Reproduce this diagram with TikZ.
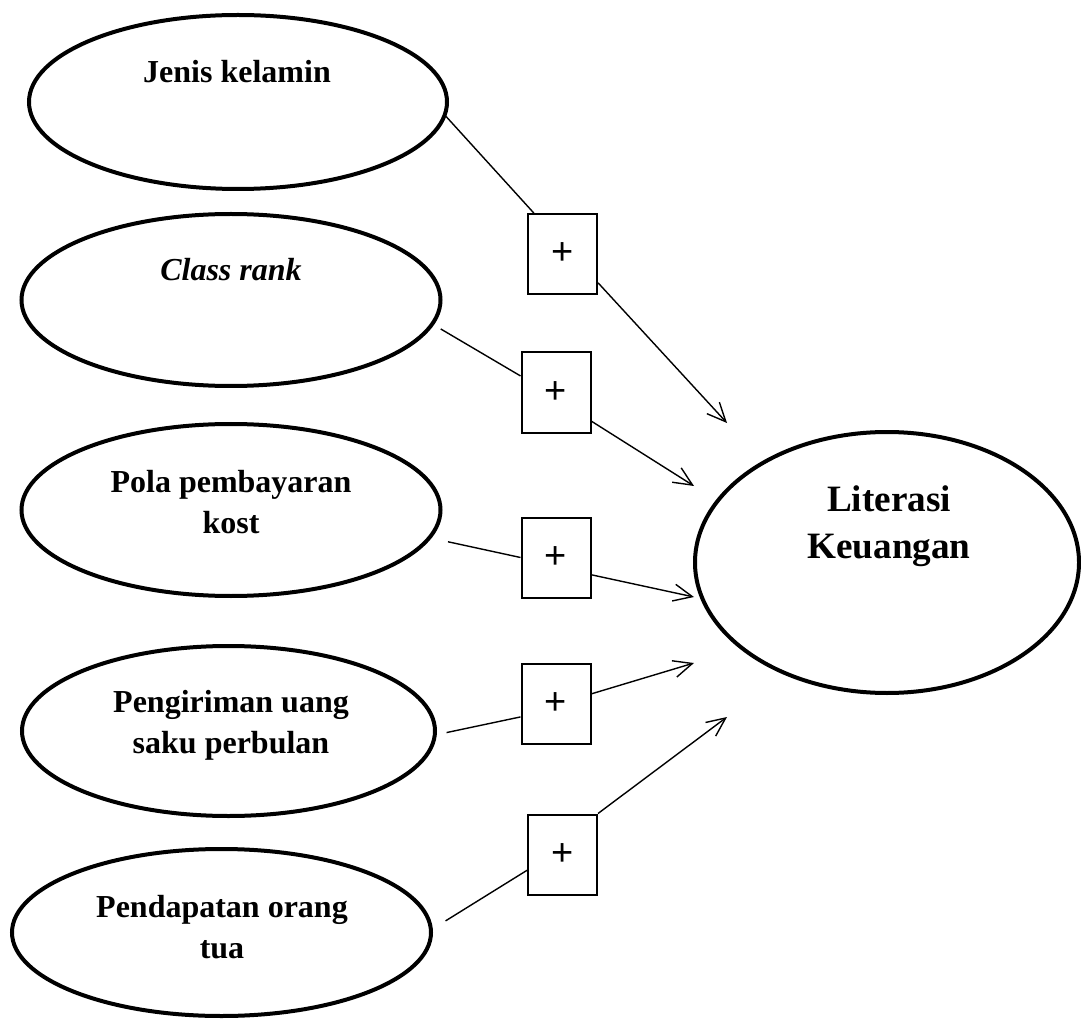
\documentclass[tikz,border=0pt]{standalone}
\usepackage{fontspec}
\setmainfont{Liberation Serif}
\newfontfamily\plusfont{Liberation Sans}
\usetikzlibrary{shapes.geometric, arrows.meta}

\begin{document}
\begin{tikzpicture}[x=0.5pt, y=-0.5pt,
    var/.style={draw, ellipse, line width=2pt, inner sep=0pt},
    sign/.style={draw, rectangle, line width=1pt, inner sep=0pt,
        minimum width=34.5pt, minimum height=40pt,
        font=\plusfont\fontsize{19}{22}\selectfont},
    lbl/.style={align=center, font=\bfseries\fontsize{16}{20.5}\selectfont},
    link/.style={line width=0.7pt},
    arr/.style={link, -{Straight Barb[length=9.4pt, width=8.5pt]}}
]

    \useasboundingbox (0,0) rectangle (1081,1021);

    % Variables
    \node[var, minimum width=209pt, minimum height=87pt] (e1) at (238,102) {};
    \node[var, minimum width=209.5pt, minimum height=86pt] (e2) at (231,300) {};
    \node[var, minimum width=209.5pt, minimum height=86pt] (e3) at (231,510) {};
    \node[var, minimum width=206.5pt, minimum height=85pt] (e4) at (228.5,731) {};
    \node[var, minimum width=209.5pt, minimum height=83.5pt] (e5) at (221.5,932.5) {};
    \node[var, minimum width=192pt, minimum height=130.5pt] (lit) at (887,562.5) {};

    % Labels
    \node[lbl] (t1) at (237,72) {Jenis kelamin};
    \node[lbl, font=\bfseries\itshape\fontsize{16}{20.5}\selectfont] (t2) at (231,270) {Class rank};
    \node[lbl] (t3) at (231,502) {Pola pembayaran\\kost};
    \node[lbl] (t4) at (231,725) {Pengiriman uang\\saku perbulan};
    \node[lbl] (t5) at (222,927) {Pendapatan orang\\tua};
    \node[lbl, font=\bfseries\fontsize{18.6}{23.5}\selectfont] (t6) at (889,526) {Literasi\\Keuangan};

    % Signs
    \node[sign] (b1) at (562.5,254) {+};
    \node[sign] (b2) at (556,392.5) {+};
    \node[sign] (b3) at (556,557.5) {+};
    \node[sign] (b4) at (556,704) {+};
    \node[sign] (b5) at (562.5,854.5) {+};

    % Arrow tips
    \coordinate (tip1) at (727,423);
    \coordinate (tip2) at (694,486);
    \coordinate (tip3) at (694,597);
    \coordinate (tip4) at (694,663);
    \coordinate (tip5) at (727,717);

    % Connectors
    \draw[link] (e1.-4.6) -- (b1.125);
    \draw[arr] (b1.-39) -- (tip1);
    \draw[link, shorten <=4pt] (e2.-7) -- (b2.155);
    \draw[arr] (b2.-39) -- (tip2);
    \draw[link, shorten <=8.5pt] (e3.-8.4) -- (b3.west);
    \draw[arr] (b3.-26) -- (tip3);
    \draw[link, shorten <=5pt] (e4.-1.8) -- (b4.200);
    \draw[arr] (b4.16) -- (tip4);
    \draw[link, shorten <=7.5pt] (e5.1) -- (b5.204);
    \draw[arr] (b5.north east) -- (tip5);

\end{tikzpicture}
\end{document}
